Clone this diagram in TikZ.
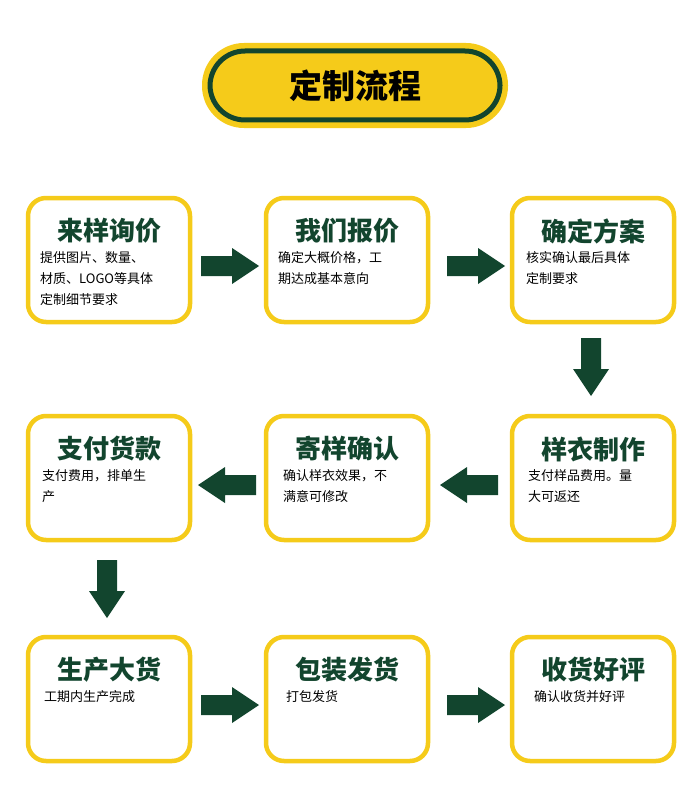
\documentclass[tikz,border=0pt]{standalone}
\usepackage{fontspec}
\newfontfamily\cjk{Noto Sans CJK SC}
\begin{document}
\definecolor{yel}{HTML}{F5CB1A}
\definecolor{dg}{HTML}{12452E}
\begin{tikzpicture}[x=1pt,y=-1pt,
 box/.style={draw=yel,line width=4.5pt,rounded corners=18pt,fill=white},
 ttl/.style={font=\cjk\bfseries\fontsize{26}{28}\selectfont,text=dg},
 dsc/.style={font=\cjk\fontsize{13}{21}\selectfont,align=left,anchor=north west,inner sep=0},
 arr/.style={fill=dg}]
\useasboundingbox (0,0) rectangle (693,789);
% title
\fill[yel,rounded corners=42pt] (202,43) rectangle (508,128);
\draw[dg,line width=5pt,rounded corners=35pt] (210,51) rectangle (500,120);
\node[font=\cjk\bfseries\fontsize{33}{35}\selectfont] (T) at (355,86) {定制流程};
% boxes
\newcommand\mybox[6]{%
 \draw[box] (#1,#2) rectangle ++(162,124);
 \node[ttl] (#3t) at (#1+81,#2+33) {#4};
 \node[dsc] (#3d) at (#1+#5,#2+53) {#6};}
\mybox{28}{198}{a}{来样询价}{12}{提供图片、数量、\\材质、LOGO等具体\\定制细节要求}
\mybox{266}{198}{b}{我们报价}{12}{确定大概价格，工\\期达成基本意向}
\mybox{512}{198}{c}{确定方案}{14}{核实确认最后具体\\定制要求}
\mybox{28}{416}{d}{支付货款}{14}{支付费用，排单生\\产}
\mybox{266}{416}{e}{寄样确认}{17}{确认样衣效果，不\\满意可修改}
\mybox{512}{416}{f}{样衣制作}{16}{支付样品费用。量\\大可返还}
\mybox{28}{637}{g}{生产大货}{16}{工期内生产完成}
\mybox{266}{637}{h}{包装发货}{20}{打包发货}
\mybox{512}{637}{i}{收货好评}{22}{确认收货并好评}
% arrows
\newcommand\rarr[2]{\fill[arr] (#1,#2-10) -- ++(31,0) -- ++(0,-8) -- ++(27,18) -- ++(-27,18) -- ++(0,-8) -- ++(-31,0) -- cycle;}
\newcommand\larr[2]{\fill[arr] (#1,#2-10) -- ++(-31,0) -- ++(0,-8) -- ++(-27,18) -- ++(27,18) -- ++(0,-8) -- ++(31,0) -- cycle;}
\newcommand\darr[2]{\fill[arr] (#1-10,#2) -- ++(0,31) -- ++(-8,0) -- ++(18,27) -- ++(18,-27) -- ++(-8,0) -- ++(0,-31) -- cycle;}
\rarr{201}{266}
\rarr{447}{266}
\darr{591}{338}
\larr{256}{485}
\larr{498}{485}
\darr{107}{560}
\rarr{201}{705}
\rarr{447}{705}
\end{tikzpicture}
\end{document}
